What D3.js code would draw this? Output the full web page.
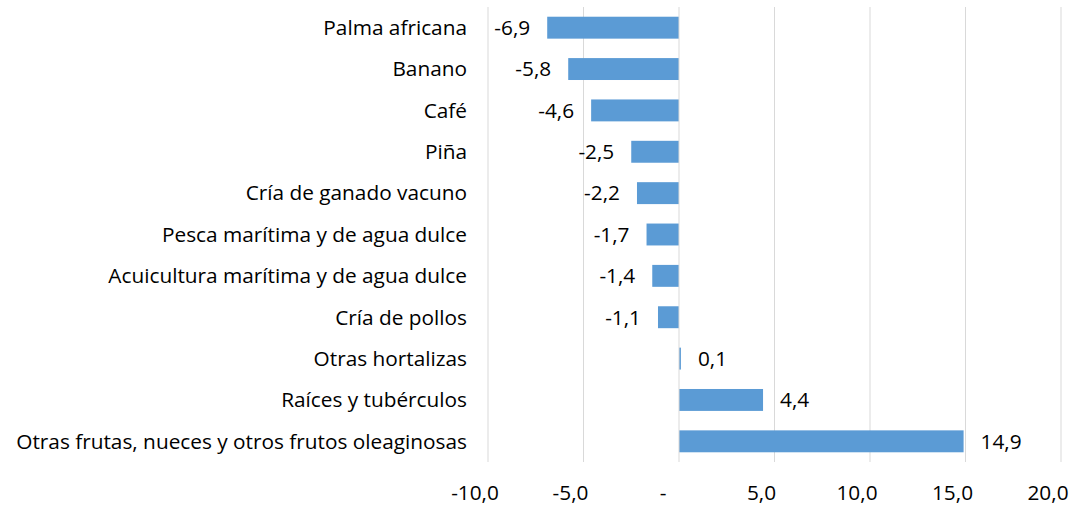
<!DOCTYPE html>
<html>
<head>
<meta charset="utf-8">
<script src="https://cdn.jsdelivr.net/npm/d3@7"></script>
<style>
  body { margin: 0; background: #fff; }
  text { font-family: "Open Sans", sans-serif; fill: #000; }
</style>
</head>
<body>
<div class="chart"></div>
<script>
// categories from top to bottom
const categories = [
  "Palma africana",
  "Banano",
  "Café",
  "Piña",
  "Cría de ganado vacuno",
  "Pesca marítima y de agua dulce",
  "Acuicultura marítima y de agua dulce",
  "Cría de pollos",
  "Otras hortalizas",
  "Raíces y tubérculos",
  "Otras frutas, nueces y otros frutos oleaginosas"
];
const values = [-6.9, -5.8, -4.6, -2.5, -2.2, -1.7, -1.4, -1.1, 0.1, 4.4, 14.9];
const tickValues = [-10, -5, 0, 5, 10, 15, 20];

const data = categories.map((c, i) => ({ name: c, value: values[i] }));

var margin = { top: 7, right: 15, bottom: 44, left: 488 };
const width = 1076 - margin.left - margin.right;
const height = 506 - margin.top - margin.bottom;
const fontSize = "20.8px";

var svg = d3
  .select(".chart")
  .append("svg")
  .attr("width", 1076)
  .attr("height", 506)
  .append("g")
  .attr("transform", "translate(" + margin.left + "," + margin.top + ")");

var x = d3.scaleLinear().domain([-10, 20]).range([0, width]);
var y = d3.scaleBand().domain(categories).range([0, height]).paddingInner(0.47).paddingOuter(0.235);

const fmt = (v) => (v === 0 ? "-" : d3.format(".1f")(v).replace(".", ",").replace("−", "-"));

// gridlines
svg
  .append("g")
  .selectAll("line")
  .data(tickValues.filter((d) => d !== 0))
  .enter()
  .append("line")
  .attr("x1", (d) => x(d))
  .attr("x2", (d) => x(d))
  .attr("y1", 0)
  .attr("y2", height)
  .attr("stroke", "#d9d9d9")
  .attr("stroke-width", 1);

// bars
svg
  .append("g")
  .selectAll("rect")
  .data(data)
  .enter()
  .append("rect")
  .attr("x", (d) => x(Math.min(0, d.value)))
  .attr("width", (d) => Math.abs(x(d.value) - x(0)))
  .attr("y", (d) => y(d.name))
  .attr("height", y.bandwidth())
  .attr("fill", "#5b9bd5");

// zero axis line
svg
  .append("line")
  .attr("x1", x(0))
  .attr("x2", x(0))
  .attr("y1", 0)
  .attr("y2", height)
  .attr("stroke", "#d9d9d9")
  .attr("stroke-width", 1);

// value labels
svg
  .append("g")
  .selectAll("text")
  .data(data)
  .enter()
  .append("text")
  .attr("x", (d) => (d.value < 0 ? x(d.value) - 17 : x(d.value) + 17))
  .attr("y", (d) => y(d.name) + y.bandwidth() / 2)
  .attr("dy", "0.35em")
  .attr("text-anchor", (d) => (d.value < 0 ? "end" : "start"))
  .style("font-size", fontSize)
  .text((d) => fmt(d.value));

// category labels
svg
  .append("g")
  .selectAll("text")
  .data(categories)
  .enter()
  .append("text")
  .attr("x", -21)
  .attr("y", (d) => y(d) + y.bandwidth() / 2)
  .attr("dy", "0.35em")
  .attr("text-anchor", "end")
  .style("font-size", fontSize)
  .text((d) => d);

// x axis tick labels
svg
  .append("g")
  .selectAll("text")
  .data(tickValues)
  .enter()
  .append("text")
  .attr("x", (d) => x(d) - (d === 0 ? 16 : 13))
  .attr("y", height + 31)
  .attr("dy", "0.35em")
  .attr("text-anchor", "middle")
  .style("font-size", fontSize)
  .text((d) => fmt(d));
</script>
</body>
</html>
